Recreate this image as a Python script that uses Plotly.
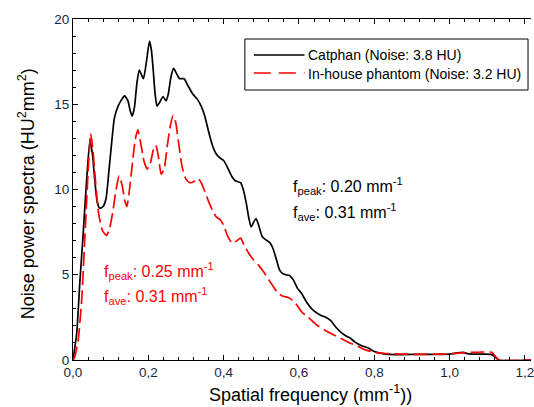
import plotly.graph_objects as go

# ---------------- data ----------------
catphan_x = [0.000, 0.010, 0.018, 0.027, 0.036, 0.045, 0.052, 0.058, 0.064, 0.071,
             0.080, 0.088, 0.095, 0.102, 0.110, 0.120, 0.130, 0.137, 0.146, 0.152,
             0.157, 0.163, 0.170, 0.176, 0.187, 0.195, 0.203, 0.208, 0.213, 0.218,
             0.223, 0.230, 0.239, 0.247, 0.253, 0.260, 0.267, 0.275, 0.283, 0.295,
             0.305, 0.318, 0.330, 0.340, 0.350, 0.360, 0.370, 0.380, 0.390, 0.400,
             0.410, 0.422, 0.432, 0.445, 0.452, 0.460, 0.467, 0.473, 0.480, 0.486,
             0.493, 0.502, 0.512, 0.522, 0.530, 0.540, 0.548, 0.555, 0.565, 0.575,
             0.585, 0.596, 0.607, 0.620, 0.634, 0.648, 0.660, 0.672, 0.685, 0.697,
             0.710, 0.722, 0.735, 0.749, 0.765, 0.784, 0.800, 0.815, 0.830, 0.870,
             0.920, 0.970, 1.000, 1.020, 1.035, 1.050, 1.080, 1.110, 1.120, 1.130,
             1.216]
catphan_y = [0.0, 1.6, 4.5, 7.4, 10.5, 12.9, 12.0, 10.5, 9.3, 8.9,
             9.0, 9.5, 11.0, 12.6, 14.2, 14.9, 15.3, 15.5, 15.2, 14.6,
             14.3, 14.8, 16.3, 17.0, 16.5, 17.5, 18.7, 18.2, 17.0, 15.6,
             14.9, 15.1, 15.45, 15.2, 15.6, 16.6, 17.1, 16.8, 16.5, 16.5,
             16.1, 15.6, 15.3, 14.9, 14.3, 13.4, 12.6, 12.1, 11.85, 11.7,
             11.3, 10.75, 10.5, 10.4, 10.0, 9.2, 8.3, 7.8, 8.1, 8.3,
             7.9, 7.25, 7.05, 6.9, 6.6, 5.9, 5.3, 5.1, 5.0, 4.95,
             4.7, 4.2, 3.9, 3.4, 3.0, 2.75, 2.6, 2.5, 2.3, 1.95,
             1.65, 1.45, 1.3, 1.05, 0.85, 0.7, 0.5, 0.4, 0.35, 0.32,
             0.33, 0.33, 0.34, 0.42, 0.45, 0.36, 0.34, 0.33, 0.2, 0.0,
             0.0]

inhouse_x = [0.000, 0.005, 0.014, 0.023, 0.032, 0.040, 0.047, 0.053, 0.060, 0.068,
             0.078, 0.089, 0.097, 0.105, 0.113, 0.122, 0.130, 0.137, 0.143, 0.150,
             0.158, 0.165, 0.172, 0.180, 0.188, 0.197, 0.205, 0.213, 0.220, 0.227,
             0.234, 0.242, 0.250, 0.258, 0.266, 0.273, 0.280, 0.290, 0.300, 0.310,
             0.320, 0.330, 0.338, 0.348, 0.360, 0.370, 0.380, 0.392, 0.400, 0.410,
             0.423, 0.435, 0.445, 0.455, 0.467, 0.480, 0.493, 0.505, 0.520, 0.535,
             0.546, 0.556, 0.566, 0.577, 0.590, 0.608, 0.625, 0.647, 0.669, 0.690,
             0.713, 0.735, 0.757, 0.775, 0.792, 0.810, 0.830, 0.870, 0.920, 0.970,
             1.000, 1.030, 1.060, 1.090, 1.112, 1.122, 1.132, 1.216]
inhouse_y = [0.0, 0.2, 1.2, 3.5, 7.4, 11.0, 13.3, 12.3, 10.4, 8.6,
             7.6, 7.3, 7.7, 8.6, 9.8, 10.8, 10.3, 9.4, 9.0, 10.0,
             11.6, 12.9, 13.5, 12.7, 11.7, 11.2, 11.5, 12.3, 12.6, 11.9,
             10.9, 11.2, 12.5, 13.7, 14.35, 13.9, 12.8, 11.3, 10.6, 10.4,
             10.45, 10.65, 10.5, 10.0, 9.3, 8.8, 8.4, 8.2, 7.9, 7.3,
             6.85, 7.0, 7.15, 6.7, 6.25, 5.85, 5.55, 5.2, 4.7, 4.2,
             3.9, 3.75, 3.7, 3.6, 3.35, 2.8, 2.5, 2.05, 1.75, 1.5,
             1.25, 1.0, 0.8, 0.6, 0.5, 0.42, 0.38, 0.35, 0.33, 0.34,
             0.36, 0.42, 0.45, 0.47, 0.45, 0.2, 0.0, 0.0]

series_names = ["Catphan (Noise: 3.8 HU)", "In-house phantom (Noise: 3.2 HU)"]
x_tick_vals = [0.0, 0.2, 0.4, 0.6, 0.8, 1.0, 1.2]
x_tick_labels = ["0,0", "0,2", "0,4", "0,6", "0,8", "1,0", "1,2"]
y_tick_vals = [0, 5, 10, 15, 20]

# ---------------- layout helpers (pixel -> paper) ----------------
W, H = 534, 407
ML, MR, MT, MB = 73, 0, 19, 47
PW, PH = W - ML - MR, H - MT - MB


def px(x):
    return (x - ML) / PW


def py(y):
    return 1 - (y - MT) / PH


fig = go.Figure()
fig.add_trace(go.Scatter(x=catphan_x, y=catphan_y, mode="lines", name=series_names[0],
                         line=dict(color="black", width=1.7, shape="spline", smoothing=0.5),
                         showlegend=False))
fig.add_trace(go.Scatter(x=inhouse_x, y=inhouse_y, mode="lines", name=series_names[1],
                         line=dict(color="#ff0000", width=1.7, dash="14px,5px",
                                   shape="spline", smoothing=0.5),
                         showlegend=False))

font_main = "Arial, Liberation Sans, sans-serif"

axis_common = dict(showgrid=False, zeroline=False, showline=True, linecolor="black",
                   linewidth=1, ticks="inside", ticklen=5, tickwidth=1, tickcolor="black",
                   ticklabeloverflow="allow",
                   tickfont=dict(family=font_main, size=13.5, color="#1c1f3c"))

fig.update_xaxes(range=[0, 1.216], tickvals=x_tick_vals, ticktext=x_tick_labels,
                 mirror="ticks",
                 minor=dict(dtick=0.04, ticks="inside", ticklen=3, tickcolor="black"),
                 **axis_common)
fig.update_yaxes(range=[0, 20], tickvals=y_tick_vals, mirror=False,
                 minor=dict(dtick=1, ticks="inside", ticklen=3, tickcolor="black"),
                 **axis_common)

shapes = []
annotations = []

# legend box
shapes.append(dict(type="rect", xref="paper", yref="paper",
                   x0=px(246), x1=px(531), y0=py(90), y1=py(39),
                   line=dict(color="black", width=1), fillcolor="white", layer="above"))
shapes.append(dict(type="line", xref="paper", yref="paper",
                   x0=px(255), x1=px(306), y0=py(55), y1=py(55),
                   line=dict(color="black", width=1.7)))
shapes.append(dict(type="line", xref="paper", yref="paper",
                   x0=px(255), x1=px(306), y0=py(73), y1=py(73),
                   line=dict(color="#ff0000", width=1.7, dash="17px,8px")))
for name, yc in zip(series_names, [55, 74]):
    annotations.append(dict(text=name, xref="paper", yref="paper", x=px(308), y=py(yc),
                            xanchor="left", yanchor="middle", showarrow=False,
                            font=dict(family=font_main, size=14, color="black")))

# f annotations
ann_font = 16
for txt, x0, yc, col in [
    ("f<sub>peak</sub>: 0.20 mm<sup>-1</sup>", 292, 186, "black"),
    ("f<sub>ave</sub>: 0.31 mm<sup>-1</sup>", 292, 212, "black"),
    ("f<sub>peak</sub>: 0.25 mm<sup>-1</sup>", 102, 271, "#ff0000"),
    ("f<sub>ave</sub>: 0.31 mm<sup>-1</sup>", 102, 296, "#ff0000"),
]:
    annotations.append(dict(text=txt, xref="paper", yref="paper", x=px(x0), y=py(yc),
                            xanchor="left", yanchor="middle", showarrow=False,
                            font=dict(family=font_main, size=ann_font, color=col)))

# axis titles
annotations.append(dict(text="Spatial frequency (mm<sup>-1</sup>))", xref="paper", yref="paper",
                        x=px(312), y=py(394), xanchor="center", yanchor="middle",
                        showarrow=False, font=dict(family=font_main, size=18, color="black")))
annotations.append(dict(text="Noise power spectra (HU<sup>2</sup>mm<sup>2</sup>)", xref="paper",
                        yref="paper", x=px(26), y=py(194), xanchor="center", yanchor="middle",
                        textangle=-90, showarrow=False,
                        font=dict(family=font_main, size=18, color="black")))

fig.update_layout(width=W, height=H, margin=dict(l=ML, r=MR, t=MT, b=MB),
                  plot_bgcolor="white", paper_bgcolor="white",
                  shapes=shapes, annotations=annotations, showlegend=False)

fig.write_html("out.html", config={"displayModeBar": False},
               post_script="document.body.style.margin='0';document.body.style.overflow='hidden';")
